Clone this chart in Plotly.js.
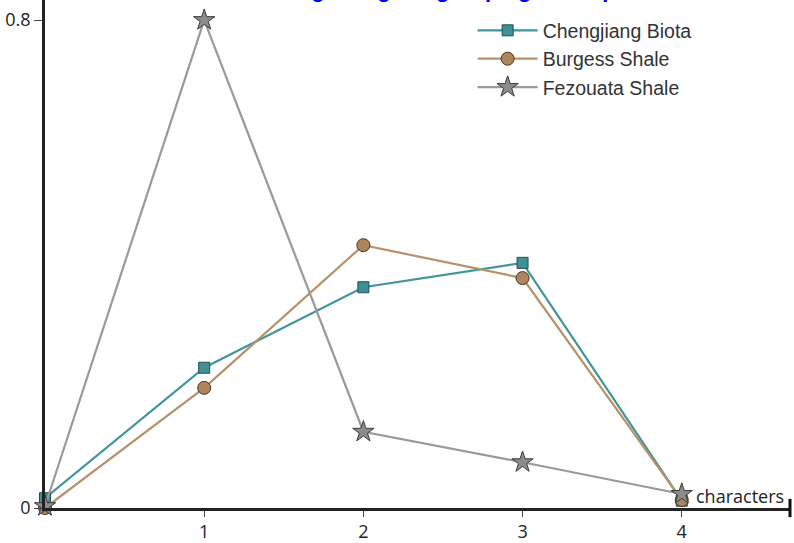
<!DOCTYPE html>
<html>
<head>
<meta charset="utf-8">
<script src="https://cdn.plot.ly/plotly-3.0.1.min.js"></script>
<style>html,body{margin:0;padding:0;background:#fff;}#chart{width:794px;height:543px;}</style>
</head>
<body>
<div id="chart"></div>
<script>
const characters = [0, 1, 2, 3, 4];
const chengjiang = [0.016, 0.230, 0.362, 0.402, 0.012];
const burgess = [0.0, 0.197, 0.431, 0.377, 0.013];
const fezouata = [0.003, 0.800, 0.125, 0.075, 0.023];
const seriesNames = ["Chengjiang Biota", "Burgess Shale", "Fezouata Shale"];
const xTickVals = [1, 2, 3, 4];
const xTickText = ["1", "2", "3", "4"];
const yTickVals = [0, 0.8];
const yTickText = ["0", "0.8"];
const titleText = "Average range of grouping of shape";

const traces = [
  {x: characters, y: chengjiang, name: seriesNames[0], mode: "lines+markers", cliponaxis: false,
   line: {color: "#3f969c", width: 2.2},
   marker: {symbol: "square", size: 11, color: "#3f8f96", line: {color: "#1f4f55", width: 1}}},
  {x: characters, y: burgess, name: seriesNames[1], mode: "lines+markers", cliponaxis: false,
   line: {color: "#b8916a", width: 2.2},
   marker: {symbol: "circle", size: 13, color: "#b0845c", line: {color: "#4a3422", width: 1}}},
  {x: characters, y: fezouata, name: seriesNames[2], mode: "lines+markers", cliponaxis: false,
   line: {color: "#999999", width: 2.2},
   marker: {symbol: "star", size: 16, color: "#8c8c8c", line: {color: "#3a3a3a", width: 1}}}
];

const layout = {
  width: 794, height: 543,
  margin: {l: 45, r: 4, t: 0, b: 35},
  paper_bgcolor: "#fff", plot_bgcolor: "#fff",
  showlegend: true,
  legend: {x: 0.574, y: 0.978, xanchor: "left", yanchor: "top", bgcolor: "rgba(0,0,0,0)",
           font: {family: "Liberation Sans", size: 19.5, color: "#333"}, tracegroupgap: 0, itemwidth: 60},
  xaxis: {range: [0, 4.68], showgrid: false, zeroline: false, showline: true, linecolor: "#222", linewidth: 2.5,
          tickvals: xTickVals, ticktext: xTickText, ticks: "outside", ticklen: 6, tickwidth: 1.2, tickcolor: "#444",
          tickfont: {family: "Open Sans", size: 18, color: "#222"}},
  yaxis: {range: [0, 0.833], showgrid: false, zeroline: false, showline: true, linecolor: "#222", linewidth: 2.5,
          tickvals: yTickVals, ticktext: yTickText, ticks: "outside", ticklen: 8, tickwidth: 1.2, tickcolor: "#444",
          tickfont: {family: "Open Sans", size: 18, color: "#222"}},
  annotations: [
    {x: 4.08, y: 0.02, xref: "x", yref: "y", text: "characters", showarrow: false, xanchor: "left",
     yanchor: "middle", font: {family: "Open Sans", size: 18, color: "#222"}},
    {x: 0.53, y: 1, xref: "paper", yref: "paper", text: titleText, showarrow: false, xanchor: "center",
     yanchor: "bottom", yshift: -4, font: {family: "Liberation Sans", size: 22, color: "#0000ff", weight: "bold"}}
  ],
  shapes: [{type: "line", xref: "paper", yref: "paper", x0: 1, x1: 1, y0: -0.018, y1: 0.018,
            line: {color: "#111", width: 3}}]
};

Plotly.newPlot("chart", traces, layout, {displayModeBar: false});
</script>
</body>
</html>
